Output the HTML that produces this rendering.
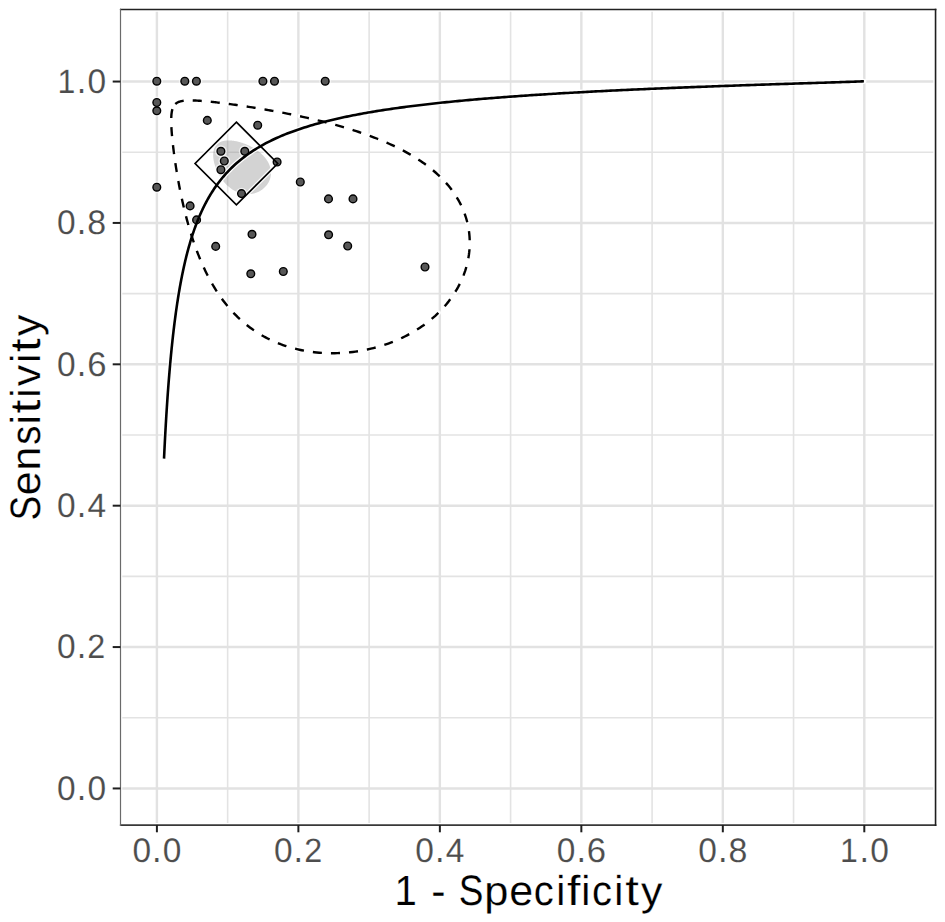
<!DOCTYPE html>
<html><head><meta charset="utf-8"><style>
html,body{margin:0;padding:0;background:#fff;overflow:hidden;}
svg{display:block;}
.gm{stroke:#e3e3e3;stroke-width:1.6;}
.gM{stroke:#e2e2e2;stroke-width:2.4;}
.pt{fill:#575757;stroke:#000;stroke-width:1.4;}
.tk{stroke:#1f1f1f;stroke-width:2;}
.tl{font-family:"Liberation Sans",sans-serif;font-size:100px;text-rendering:geometricPrecision;fill:#4d4d4d;stroke:#fff;stroke-width:0.4px;vector-effect:non-scaling-stroke;}
.at{font-family:"Liberation Sans",sans-serif;font-size:100px;text-rendering:geometricPrecision;fill:#000;stroke:#fff;stroke-width:0.45px;vector-effect:non-scaling-stroke;}
</style></head><body>
<svg width="945" height="922" viewBox="0 0 945 922">
<rect x="0" y="0" width="945" height="922" fill="#fff"/>
<line x1="122.3" x2="933.3" y1="717.76" y2="717.76" class="gm"/>
<line y1="11.8" y2="822.9" x1="227.64" x2="227.64" class="gm"/>
<line x1="122.3" x2="933.3" y1="576.38" y2="576.38" class="gm"/>
<line y1="11.8" y2="822.9" x1="369.12" x2="369.12" class="gm"/>
<line x1="122.3" x2="933.3" y1="435.00" y2="435.00" class="gm"/>
<line y1="11.8" y2="822.9" x1="510.60" x2="510.60" class="gm"/>
<line x1="122.3" x2="933.3" y1="293.62" y2="293.62" class="gm"/>
<line y1="11.8" y2="822.9" x1="652.08" x2="652.08" class="gm"/>
<line x1="122.3" x2="933.3" y1="152.24" y2="152.24" class="gm"/>
<line y1="11.8" y2="822.9" x1="793.56" x2="793.56" class="gm"/>
<line x1="122.3" x2="933.3" y1="788.45" y2="788.45" class="gM"/>
<line y1="11.8" y2="822.9" x1="156.90" x2="156.90" class="gM"/>
<line x1="122.3" x2="933.3" y1="647.07" y2="647.07" class="gM"/>
<line y1="11.8" y2="822.9" x1="298.38" x2="298.38" class="gM"/>
<line x1="122.3" x2="933.3" y1="505.69" y2="505.69" class="gM"/>
<line y1="11.8" y2="822.9" x1="439.86" x2="439.86" class="gM"/>
<line x1="122.3" x2="933.3" y1="364.31" y2="364.31" class="gM"/>
<line y1="11.8" y2="822.9" x1="581.34" x2="581.34" class="gM"/>
<line x1="122.3" x2="933.3" y1="222.93" y2="222.93" class="gM"/>
<line y1="11.8" y2="822.9" x1="722.82" x2="722.82" class="gM"/>
<line x1="122.3" x2="933.3" y1="81.55" y2="81.55" class="gM"/>
<line y1="11.8" y2="822.9" x1="864.30" x2="864.30" class="gM"/>
<path d="M215.72,145.75 L215.60,145.94 L215.47,146.12 L215.35,146.31 L215.23,146.50 L215.12,146.69 L215.01,146.89 L214.90,147.09 L214.80,147.29 L214.70,147.50 L214.60,147.71 L214.50,147.92 L214.41,148.14 L214.32,148.35 L214.24,148.57 L214.16,148.80 L214.08,149.02 L214.00,149.25 L213.93,149.48 L213.86,149.72 L213.80,149.95 L213.74,150.19 L213.68,150.44 L213.62,150.68 L213.57,150.93 L213.52,151.18 L213.47,151.43 L213.43,151.69 L213.39,151.95 L213.36,152.21 L213.32,152.47 L213.29,152.73 L213.27,153.00 L213.25,153.27 L213.23,153.55 L213.21,153.82 L213.20,154.10 L213.19,154.38 L213.18,154.66 L213.18,154.95 L213.18,155.24 L213.18,155.53 L213.19,155.82 L213.20,156.11 L213.21,156.41 L213.23,156.70 L213.25,157.01 L213.27,157.31 L213.30,157.61 L213.32,157.92 L213.36,158.23 L213.39,158.54 L213.43,158.85 L213.48,159.16 L213.52,159.48 L213.57,159.80 L213.62,160.11 L213.68,160.44 L213.74,160.76 L213.80,161.08 L213.86,161.41 L213.93,161.74 L214.01,162.06 L214.08,162.39 L214.16,162.72 L214.24,163.06 L214.33,163.39 L214.41,163.73 L214.51,164.06 L214.60,164.40 L214.70,164.74 L214.80,165.08 L214.90,165.42 L215.01,165.76 L215.12,166.10 L215.24,166.44 L215.36,166.79 L215.48,167.13 L215.60,167.48 L215.73,167.82 L215.86,168.17 L215.99,168.52 L216.13,168.86 L216.27,169.21 L216.41,169.56 L216.56,169.90 L216.71,170.25 L216.86,170.60 L217.02,170.95 L217.18,171.30 L217.34,171.64 L217.51,171.99 L217.68,172.34 L217.85,172.69 L218.03,173.03 L218.21,173.38 L218.39,173.72 L218.57,174.07 L218.76,174.41 L218.96,174.76 L219.15,175.10 L219.35,175.44 L219.55,175.78 L219.75,176.12 L219.96,176.46 L220.17,176.80 L220.39,177.14 L220.60,177.47 L220.82,177.81 L221.05,178.14 L221.27,178.47 L221.50,178.80 L221.73,179.13 L221.97,179.45 L222.21,179.78 L222.45,180.10 L222.69,180.42 L222.94,180.74 L223.19,181.05 L223.44,181.37 L223.70,181.68 L223.96,181.99 L224.22,182.30 L224.48,182.60 L224.75,182.90 L225.02,183.20 L225.30,183.50 L225.57,183.79 L225.85,184.09 L226.13,184.38 L226.42,184.66 L226.70,184.94 L226.99,185.22 L227.29,185.50 L227.58,185.77 L227.88,186.04 L228.18,186.31 L228.48,186.57 L228.79,186.83 L229.09,187.09 L229.41,187.34 L229.72,187.59 L230.03,187.84 L230.35,188.08 L230.67,188.31 L230.99,188.55 L231.32,188.78 L231.64,189.00 L231.97,189.22 L232.30,189.44 L232.64,189.65 L232.97,189.86 L233.31,190.07 L233.65,190.27 L233.99,190.46 L234.33,190.66 L234.68,190.84 L235.02,191.02 L235.37,191.20 L235.72,191.37 L236.07,191.54 L236.43,191.71 L236.78,191.86 L237.14,192.02 L237.50,192.17 L237.85,192.31 L238.22,192.45 L238.58,192.58 L238.94,192.71 L239.31,192.84 L239.67,192.95 L240.04,193.07 L240.41,193.18 L240.77,193.28 L241.14,193.38 L241.51,193.47 L241.89,193.56 L242.26,193.64 L242.63,193.71 L243.00,193.79 L243.38,193.85 L243.75,193.91 L244.13,193.97 L244.50,194.02 L244.88,194.06 L245.25,194.10 L245.63,194.13 L246.00,194.16 L246.38,194.18 L246.75,194.20 L247.13,194.21 L247.50,194.22 L247.88,194.22 L248.25,194.21 L248.63,194.20 L249.00,194.19 L249.37,194.16 L249.75,194.14 L250.12,194.10 L250.49,194.07 L250.86,194.02 L251.23,193.97 L251.59,193.92 L251.96,193.86 L252.32,193.79 L252.69,193.72 L253.05,193.65 L253.41,193.57 L253.77,193.48 L254.13,193.39 L254.49,193.29 L254.84,193.19 L255.19,193.08 L255.54,192.97 L255.89,192.85 L256.24,192.73 L256.58,192.60 L256.92,192.47 L257.26,192.33 L257.60,192.18 L257.93,192.04 L258.27,191.88 L258.60,191.73 L258.92,191.56 L259.25,191.40 L259.57,191.22 L259.89,191.05 L260.20,190.86 L260.51,190.68 L260.82,190.49 L261.13,190.29 L261.43,190.09 L261.73,189.89 L262.02,189.68 L262.31,189.47 L262.60,189.25 L262.88,189.03 L263.16,188.81 L263.44,188.58 L263.71,188.34 L263.98,188.11 L264.24,187.87 L264.50,187.62 L264.76,187.37 L265.01,187.12 L265.25,186.86 L265.50,186.61 L265.73,186.34 L265.97,186.08 L266.20,185.81 L266.42,185.53 L266.64,185.26 L266.85,184.98 L267.06,184.70 L267.27,184.41 L267.47,184.12 L267.66,183.83 L267.85,183.54 L268.03,183.24 L268.21,182.94 L268.38,182.64 L268.55,182.33 L268.72,182.03 L268.87,181.72 L269.02,181.41 L269.17,181.09 L269.31,180.78 L269.45,180.46 L269.58,180.14 L269.70,179.82 L269.82,179.49 L269.93,179.17 L270.04,178.84 L270.14,178.51 L270.24,178.18 L270.33,177.85 L270.41,177.51 L270.49,177.18 L270.56,176.84 L270.62,176.50 L270.68,176.16 L270.74,175.83 L270.79,175.48 L270.83,175.14 L270.86,174.80 L270.89,174.46 L270.92,174.11 L270.94,173.77 L270.95,173.42 L270.95,173.08 L270.95,172.73 L270.95,172.38 L270.94,172.03 L270.92,171.69 L270.89,171.34 L270.86,170.99 L270.83,170.64 L270.79,170.30 L270.74,169.95 L270.68,169.60 L270.62,169.25 L270.56,168.91 L270.48,168.56 L270.41,168.21 L270.32,167.87 L270.23,167.52 L270.14,167.18 L270.04,166.83 L269.93,166.49 L269.82,166.14 L269.70,165.80 L269.57,165.46 L269.44,165.12 L269.31,164.78 L269.17,164.44 L269.02,164.10 L268.87,163.77 L268.71,163.43 L268.55,163.10 L268.38,162.77 L268.21,162.43 L268.03,162.10 L267.84,161.78 L267.65,161.45 L267.46,161.12 L267.26,160.80 L267.06,160.48 L266.85,160.15 L266.63,159.84 L266.41,159.52 L266.19,159.20 L265.96,158.89 L265.73,158.58 L265.49,158.27 L265.25,157.96 L265.00,157.65 L264.75,157.35 L264.49,157.04 L264.23,156.74 L263.97,156.44 L263.70,156.15 L263.43,155.85 L263.15,155.56 L262.87,155.27 L262.59,154.98 L262.30,154.70 L262.01,154.42 L261.72,154.14 L261.42,153.86 L261.12,153.58 L260.81,153.31 L260.50,153.04 L260.19,152.77 L259.88,152.50 L259.56,152.24 L259.24,151.98 L258.91,151.72 L258.59,151.46 L258.26,151.21 L257.93,150.96 L257.59,150.71 L257.25,150.47 L256.91,150.22 L256.57,149.98 L256.23,149.75 L255.88,149.51 L255.53,149.28 L255.18,149.05 L254.83,148.82 L254.48,148.60 L254.12,148.38 L253.76,148.16 L253.40,147.95 L253.04,147.74 L252.68,147.53 L252.31,147.32 L251.95,147.12 L251.58,146.92 L251.21,146.72 L250.85,146.52 L250.48,146.33 L250.11,146.14 L249.73,145.96 L249.36,145.78 L248.99,145.60 L248.62,145.42 L248.24,145.24 L247.87,145.07 L247.49,144.91 L247.12,144.74 L246.74,144.58 L246.37,144.42 L245.99,144.26 L245.62,144.11 L245.24,143.96 L244.87,143.82 L244.49,143.67 L244.12,143.53 L243.74,143.39 L243.37,143.26 L242.99,143.13 L242.62,143.00 L242.25,142.87 L241.87,142.75 L241.50,142.63 L241.13,142.52 L240.76,142.40 L240.39,142.30 L240.03,142.19 L239.66,142.09 L239.29,141.98 L238.93,141.89 L238.57,141.79 L238.21,141.70 L237.84,141.61 L237.49,141.53 L237.13,141.45 L236.77,141.37 L236.42,141.29 L236.06,141.22 L235.71,141.15 L235.36,141.09 L235.01,141.02 L234.67,140.96 L234.32,140.91 L233.98,140.85 L233.64,140.80 L233.30,140.76 L232.96,140.71 L232.63,140.67 L232.29,140.63 L231.96,140.60 L231.63,140.57 L231.31,140.54 L230.98,140.51 L230.66,140.49 L230.34,140.47 L230.02,140.46 L229.71,140.44 L229.40,140.43 L229.09,140.43 L228.78,140.42 L228.47,140.42 L228.17,140.43 L227.87,140.43 L227.57,140.44 L227.28,140.45 L226.99,140.47 L226.70,140.49 L226.41,140.51 L226.12,140.53 L225.84,140.56 L225.56,140.59 L225.29,140.63 L225.01,140.67 L224.74,140.71 L224.48,140.75 L224.21,140.80 L223.95,140.85 L223.69,140.90 L223.44,140.96 L223.18,141.02 L222.93,141.08 L222.69,141.14 L222.44,141.21 L222.20,141.28 L221.96,141.36 L221.73,141.44 L221.49,141.52 L221.27,141.60 L221.04,141.69 L220.82,141.78 L220.60,141.88 L220.38,141.97 L220.17,142.07 L219.96,142.18 L219.75,142.28 L219.54,142.39 L219.34,142.50 L219.14,142.62 L218.95,142.74 L218.76,142.86 L218.57,142.98 L218.38,143.11 L218.20,143.24 L218.02,143.38 L217.85,143.51 L217.67,143.65 L217.51,143.80 L217.34,143.94 L217.18,144.09 L217.02,144.25 L216.86,144.40 L216.71,144.56 L216.56,144.72 L216.41,144.89 L216.27,145.05 L216.13,145.22 L215.99,145.40 L215.86,145.57 Z" fill="#7f7f7f" fill-opacity="0.34" stroke="none"/>
<g stroke="#fff" fill="none" stroke-opacity="0.9" fill-opacity="0.9">
<path d="M173.21,107.06 L173.08,107.35 L172.95,107.65 L172.83,107.96 L172.71,108.28 L172.59,108.61 L172.48,108.95 L172.38,109.29 L172.28,109.65 L172.19,110.01 L172.10,110.39 L172.01,110.77 L171.93,111.16 L171.85,111.57 L171.78,111.98 L171.72,112.40 L171.65,112.84 L171.59,113.28 L171.54,113.74 L171.49,114.20 L171.44,114.68 L171.40,115.17 L171.37,115.67 L171.33,116.19 L171.30,116.71 L171.28,117.25 L171.26,117.80 L171.24,118.37 L171.23,118.94 L171.22,119.54 L171.21,120.14 L171.21,120.76 L171.22,121.39 L171.22,122.04 L171.24,122.70 L171.25,123.37 L171.27,124.06 L171.29,124.77 L171.32,125.49 L171.35,126.22 L171.39,126.98 L171.43,127.74 L171.47,128.53 L171.52,129.33 L171.58,130.15 L171.63,130.98 L171.69,131.84 L171.76,132.71 L171.83,133.60 L171.90,134.50 L171.98,135.43 L172.07,136.37 L172.16,137.33 L172.25,138.31 L172.35,139.31 L172.45,140.33 L172.56,141.36 L172.67,142.42 L172.79,143.50 L172.91,144.60 L173.04,145.71 L173.17,146.85 L173.31,148.01 L173.45,149.19 L173.60,150.39 L173.75,151.61 L173.92,152.85 L174.08,154.11 L174.25,155.39 L174.43,156.70 L174.62,158.02 L174.81,159.37 L175.01,160.74 L175.21,162.12 L175.42,163.54 L175.64,164.97 L175.86,166.42 L176.09,167.89 L176.33,169.39 L176.58,170.91 L176.83,172.45 L177.10,174.00 L177.37,175.58 L177.64,177.18 L177.93,178.81 L178.23,180.45 L178.53,182.11 L178.84,183.79 L179.16,185.49 L179.49,187.21 L179.83,188.95 L180.18,190.71 L180.54,192.49 L180.91,194.28 L181.29,196.09 L181.68,197.92 L182.09,199.77 L182.50,201.64 L182.92,203.52 L183.36,205.41 L183.81,207.32 L184.27,209.25 L184.74,211.19 L185.23,213.14 L185.72,215.11 L186.24,217.09 L186.76,219.08 L187.30,221.08 L187.85,223.10 L188.42,225.12 L189.00,227.15 L189.60,229.19 L190.21,231.24 L190.84,233.30 L191.49,235.36 L192.15,237.43 L192.83,239.50 L193.52,241.58 L194.23,243.66 L194.96,245.75 L195.71,247.83 L196.48,249.92 L197.27,252.01 L198.07,254.09 L198.90,256.18 L199.74,258.26 L200.61,260.34 L201.49,262.41 L202.40,264.48 L203.33,266.55 L204.28,268.61 L205.25,270.66 L206.24,272.70 L207.26,274.73 L208.30,276.76 L209.36,278.77 L210.45,280.77 L211.56,282.76 L212.70,284.73 L213.86,286.69 L215.05,288.64 L216.26,290.57 L217.50,292.48 L218.77,294.37 L220.06,296.25 L221.37,298.11 L222.72,299.94 L224.09,301.76 L225.49,303.56 L226.92,305.33 L228.37,307.08 L229.85,308.80 L231.37,310.51 L232.91,312.18 L234.47,313.83 L236.07,315.46 L237.70,317.06 L239.35,318.63 L241.04,320.17 L242.75,321.68 L244.49,323.16 L246.26,324.61 L248.06,326.04 L249.89,327.43 L251.75,328.79 L253.63,330.11 L255.55,331.40 L257.49,332.66 L259.47,333.89 L261.47,335.08 L263.49,336.24 L265.55,337.36 L267.63,338.45 L269.74,339.50 L271.88,340.51 L274.04,341.49 L276.22,342.43 L278.44,343.33 L280.67,344.20 L282.93,345.02 L285.22,345.81 L287.53,346.56 L289.85,347.27 L292.21,347.95 L294.58,348.58 L296.97,349.17 L299.38,349.72 L301.81,350.24 L304.26,350.71 L306.72,351.14 L309.20,351.54 L311.70,351.89 L314.21,352.20 L316.73,352.47 L319.27,352.70 L321.81,352.89 L324.37,353.04 L326.94,353.15 L329.51,353.21 L332.09,353.24 L334.68,353.22 L337.27,353.16 L339.87,353.06 L342.46,352.92 L345.06,352.74 L347.66,352.52 L350.26,352.26 L352.86,351.96 L355.45,351.61 L358.04,351.23 L360.62,350.80 L363.20,350.34 L365.76,349.83 L368.32,349.29 L370.87,348.70 L373.41,348.08 L375.93,347.41 L378.44,346.71 L380.93,345.97 L383.41,345.19 L385.87,344.37 L388.31,343.51 L390.73,342.62 L393.14,341.68 L395.52,340.71 L397.87,339.71 L400.20,338.66 L402.51,337.59 L404.79,336.47 L407.05,335.32 L409.27,334.14 L411.47,332.92 L413.64,331.66 L415.78,330.38 L417.88,329.06 L419.95,327.71 L421.99,326.32 L424.00,324.91 L425.97,323.46 L427.90,321.98 L429.80,320.48 L431.66,318.94 L433.48,317.38 L435.27,315.79 L437.01,314.17 L438.71,312.52 L440.38,310.85 L442.00,309.15 L443.58,307.43 L445.12,305.69 L446.61,303.92 L448.07,302.13 L449.47,300.32 L450.84,298.48 L452.16,296.63 L453.43,294.76 L454.66,292.87 L455.84,290.96 L456.98,289.03 L458.07,287.09 L459.11,285.13 L460.10,283.16 L461.05,281.17 L461.95,279.18 L462.80,277.17 L463.61,275.15 L464.36,273.11 L465.07,271.07 L465.72,269.02 L466.33,266.97 L466.89,264.90 L467.40,262.84 L467.86,260.76 L468.27,258.68 L468.62,256.60 L468.93,254.52 L469.19,252.43 L469.40,250.34 L469.56,248.26 L469.67,246.17 L469.73,244.09 L469.74,242.00 L469.70,239.93 L469.60,237.85 L469.46,235.78 L469.27,233.72 L469.03,231.66 L468.73,229.61 L468.39,227.57 L468.00,225.53 L467.55,223.51 L467.06,221.49 L466.52,219.49 L465.93,217.49 L465.29,215.51 L464.60,213.54 L463.86,211.59 L463.07,209.64 L462.24,207.71 L461.36,205.80 L460.42,203.90 L459.44,202.02 L458.42,200.15 L457.34,198.30 L456.22,196.47 L455.06,194.65 L453.84,192.85 L452.58,191.07 L451.28,189.31 L449.93,187.56 L448.54,185.84 L447.10,184.13 L445.62,182.45 L444.09,180.78 L442.53,179.14 L440.92,177.51 L439.27,175.91 L437.58,174.32 L435.85,172.76 L434.08,171.22 L432.27,169.70 L430.42,168.20 L428.53,166.72 L426.61,165.26 L424.65,163.83 L422.66,162.41 L420.63,161.02 L418.57,159.64 L416.48,158.29 L414.35,156.96 L412.19,155.66 L410.00,154.37 L407.79,153.10 L405.54,151.86 L403.27,150.63 L400.97,149.43 L398.65,148.25 L396.30,147.09 L393.93,145.94 L391.53,144.82 L389.12,143.72 L386.68,142.64 L384.23,141.58 L381.75,140.54 L379.27,139.51 L376.76,138.51 L374.24,137.53 L371.71,136.56 L369.17,135.62 L366.61,134.69 L364.05,133.78 L361.47,132.89 L358.89,132.01 L356.31,131.16 L353.71,130.32 L351.12,129.50 L348.52,128.69 L345.92,127.90 L343.32,127.13 L340.72,126.38 L338.13,125.64 L335.54,124.91 L332.95,124.20 L330.36,123.51 L327.79,122.83 L325.22,122.17 L322.66,121.52 L320.11,120.88 L317.57,120.26 L315.04,119.66 L312.53,119.06 L310.03,118.48 L307.54,117.92 L305.07,117.36 L302.62,116.82 L300.18,116.29 L297.77,115.78 L295.37,115.27 L292.99,114.78 L290.63,114.30 L288.29,113.83 L285.98,113.37 L283.69,112.93 L281.42,112.49 L279.17,112.06 L276.95,111.65 L274.76,111.24 L272.59,110.85 L270.44,110.46 L268.33,110.09 L266.23,109.72 L264.17,109.37 L262.13,109.02 L260.12,108.68 L258.14,108.35 L256.19,108.03 L254.27,107.72 L252.37,107.41 L250.50,107.12 L248.66,106.83 L246.85,106.55 L245.07,106.28 L243.32,106.01 L241.60,105.76 L239.91,105.51 L238.24,105.26 L236.61,105.03 L235.00,104.80 L233.42,104.58 L231.87,104.37 L230.35,104.16 L228.86,103.96 L227.40,103.76 L225.96,103.57 L224.55,103.39 L223.17,103.22 L221.82,103.05 L220.49,102.88 L219.19,102.72 L217.92,102.57 L216.67,102.43 L215.45,102.28 L214.25,102.15 L213.08,102.02 L211.94,101.90 L210.82,101.78 L209.72,101.66 L208.65,101.55 L207.60,101.45 L206.58,101.35 L205.57,101.26 L204.60,101.17 L203.64,101.09 L202.70,101.01 L201.79,100.94 L200.90,100.87 L200.02,100.81 L199.17,100.75 L198.34,100.70 L197.53,100.65 L196.74,100.60 L195.96,100.56 L195.21,100.53 L194.47,100.50 L193.76,100.47 L193.05,100.45 L192.37,100.43 L191.70,100.42 L191.05,100.41 L190.42,100.41 L189.80,100.41 L189.20,100.42 L188.61,100.43 L188.04,100.45 L187.48,100.47 L186.94,100.49 L186.41,100.52 L185.89,100.55 L185.39,100.59 L184.90,100.64 L184.42,100.68 L183.96,100.74 L183.51,100.80 L183.07,100.86 L182.64,100.92 L182.22,101.00 L181.82,101.07 L181.42,101.16 L181.04,101.24 L180.66,101.33 L180.30,101.43 L179.95,101.53 L179.60,101.64 L179.27,101.75 L178.95,101.87 L178.63,101.99 L178.32,102.12 L178.03,102.26 L177.74,102.40 L177.46,102.54 L177.18,102.69 L176.92,102.85 L176.66,103.01 L176.41,103.18 L176.17,103.36 L175.94,103.54 L175.71,103.72 L175.49,103.92 L175.28,104.12 L175.07,104.32 L174.87,104.54 L174.68,104.76 L174.49,104.98 L174.31,105.22 L174.14,105.46 L173.97,105.70 L173.81,105.96 L173.65,106.22 L173.50,106.49 L173.35,106.77 Z" stroke-width="5.0" stroke-dasharray="9.05 9.05" stroke-dashoffset="-2.185" stroke-linecap="round"/>
<path d="M164.03,458.60 L164.09,457.19 L164.16,455.78 L164.23,454.38 L164.30,452.97 L164.36,451.56 L164.43,450.14 L164.50,448.73 L164.57,447.32 L164.64,445.91 L164.72,444.49 L164.79,443.08 L164.86,441.67 L164.93,440.25 L165.01,438.84 L165.08,437.42 L165.16,436.01 L165.24,434.59 L165.31,433.18 L165.39,431.76 L165.47,430.34 L165.55,428.93 L165.63,427.51 L165.71,426.10 L165.79,424.68 L165.87,423.26 L165.96,421.85 L166.04,420.43 L166.13,419.02 L166.21,417.60 L166.30,416.19 L166.38,414.78 L166.47,413.36 L166.56,411.95 L166.65,410.54 L166.74,409.13 L166.83,407.72 L166.92,406.31 L167.02,404.90 L167.11,403.49 L167.21,402.08 L167.30,400.67 L167.40,399.27 L167.49,397.86 L167.59,396.46 L167.69,395.05 L167.79,393.65 L167.89,392.25 L167.99,390.85 L168.10,389.45 L168.20,388.05 L168.30,386.66 L168.41,385.26 L168.52,383.87 L168.62,382.48 L168.73,381.09 L168.84,379.70 L168.95,378.31 L169.07,376.92 L169.18,375.54 L169.29,374.15 L169.41,372.77 L169.52,371.39 L169.64,370.02 L169.76,368.64 L169.88,367.27 L170.00,365.89 L170.12,364.52 L170.24,363.15 L170.36,361.79 L170.49,360.42 L170.61,359.06 L170.74,357.70 L170.87,356.34 L171.00,354.99 L171.13,353.63 L171.26,352.28 L171.39,350.93 L171.53,349.59 L171.66,348.24 L171.80,346.90 L171.94,345.56 L172.08,344.22 L172.22,342.89 L172.36,341.55 L172.50,340.23 L172.65,338.90 L172.79,337.57 L172.94,336.25 L173.09,334.93 L173.24,333.62 L173.39,332.30 L173.54,330.99 L173.70,329.68 L173.85,328.38 L174.01,327.08 L174.17,325.78 L174.33,324.48 L174.49,323.19 L174.65,321.90 L174.82,320.61 L174.98,319.33 L175.15,318.05 L175.32,316.77 L175.49,315.49 L175.66,314.22 L175.83,312.95 L176.01,311.69 L176.19,310.42 L176.37,309.17 L176.55,307.91 L176.73,306.66 L176.91,305.41 L177.10,304.16 L177.28,302.92 L177.47,301.68 L177.66,300.45 L177.85,299.22 L178.05,297.99 L178.24,296.76 L178.44,295.54 L178.64,294.33 L178.84,293.11 L179.05,291.90 L179.25,290.69 L179.46,289.49 L179.67,288.29 L179.88,287.10 L180.09,285.90 L180.31,284.72 L180.52,283.53 L180.74,282.35 L180.96,281.17 L181.18,280.00 L181.41,278.83 L181.64,277.67 L181.87,276.51 L182.10,275.35 L182.33,274.19 L182.57,273.04 L182.80,271.90 L183.04,270.76 L183.28,269.62 L183.53,268.48 L183.78,267.35 L184.02,266.23 L184.28,265.10 L184.53,263.99 L184.79,262.87 L185.04,261.76 L185.30,260.66 L185.57,259.55 L185.83,258.46 L186.10,257.36 L186.37,256.27 L186.64,255.19 L186.92,254.10 L187.20,253.03 L187.48,251.95 L187.76,250.88 L188.05,249.82 L188.33,248.76 L188.63,247.70 L188.92,246.65 L189.22,245.60 L189.52,244.56 L189.82,243.52 L190.12,242.48 L190.43,241.45 L190.74,240.42 L191.05,239.40 L191.37,238.38 L191.69,237.36 L192.01,236.35 L192.34,235.35 L192.66,234.34 L193.00,233.35 L193.33,232.35 L193.67,231.36 L194.01,230.38 L194.35,229.40 L194.70,228.42 L195.05,227.45 L195.40,226.48 L195.76,225.52 L196.12,224.56 L196.48,223.60 L196.85,222.65 L197.22,221.70 L197.59,220.76 L197.97,219.82 L198.35,218.89 L198.73,217.96 L199.12,217.03 L199.51,216.11 L199.90,215.19 L200.30,214.28 L200.70,213.37 L201.11,212.47 L201.52,211.57 L201.93,210.67 L202.35,209.78 L202.77,208.89 L203.19,208.01 L203.62,207.13 L204.06,206.25 L204.49,205.38 L204.93,204.52 L205.38,203.66 L205.83,202.80 L206.28,201.94 L206.74,201.09 L207.20,200.25 L207.66,199.41 L208.13,198.57 L208.61,197.74 L209.09,196.91 L209.57,196.08 L210.06,195.26 L210.55,194.45 L211.05,193.63 L211.55,192.83 L212.06,192.02 L212.57,191.22 L213.08,190.43 L213.60,189.63 L214.13,188.85 L214.66,188.06 L215.19,187.28 L215.73,186.51 L216.28,185.74 L216.83,184.97 L217.38,184.21 L217.94,183.45 L218.51,182.69 L219.08,181.94 L219.65,181.19 L220.23,180.45 L220.82,179.71 L221.41,178.97 L222.01,178.24 L222.61,177.51 L223.22,176.79 L223.83,176.07 L224.45,175.35 L225.08,174.64 L225.71,173.93 L226.35,173.23 L226.99,172.53 L227.64,171.83 L229.77,169.62 L231.90,167.51 L234.02,165.49 L236.15,163.56 L238.28,161.71 L240.41,159.94 L242.54,158.24 L244.66,156.60 L246.79,155.03 L248.92,153.52 L251.05,152.07 L253.18,150.67 L255.30,149.32 L257.43,148.01 L259.56,146.76 L261.69,145.54 L263.82,144.36 L265.94,143.22 L268.07,142.12 L270.20,141.05 L272.33,140.02 L274.46,139.01 L276.58,138.04 L278.71,137.09 L280.84,136.17 L282.97,135.28 L285.09,134.41 L287.22,133.57 L289.35,132.75 L291.48,131.95 L293.61,131.17 L295.73,130.41 L297.86,129.67 L299.99,128.95 L302.12,128.24 L304.25,127.56 L306.37,126.89 L308.50,126.23 L310.63,125.60 L312.76,124.97 L314.89,124.36 L317.01,123.77 L319.14,123.18 L321.27,122.61 L323.40,122.05 L325.53,121.51 L327.65,120.97 L329.78,120.45 L331.91,119.94 L334.04,119.43 L336.17,118.94 L338.29,118.46 L340.42,117.99 L342.55,117.52 L344.68,117.07 L346.81,116.62 L348.93,116.18 L351.06,115.75 L353.19,115.33 L355.32,114.92 L357.45,114.51 L359.57,114.11 L361.70,113.72 L363.83,113.33 L365.96,112.95 L368.09,112.58 L370.21,112.22 L372.34,111.86 L374.47,111.50 L376.60,111.15 L378.73,110.81 L380.85,110.47 L382.98,110.14 L385.11,109.81 L387.24,109.49 L389.36,109.18 L391.49,108.86 L393.62,108.56 L395.75,108.26 L397.88,107.96 L400.00,107.66 L402.13,107.37 L404.26,107.09 L406.39,106.81 L408.52,106.53 L410.64,106.26 L412.77,105.99 L414.90,105.73 L417.03,105.46 L419.16,105.21 L421.28,104.95 L423.41,104.70 L425.54,104.45 L427.67,104.21 L429.80,103.97 L431.92,103.73 L434.05,103.49 L436.18,103.26 L438.31,103.03 L440.44,102.81 L442.56,102.58 L444.69,102.36 L446.82,102.14 L448.95,101.93 L451.08,101.72 L453.20,101.51 L455.33,101.30 L457.46,101.09 L459.59,100.89 L461.72,100.69 L463.84,100.49 L465.97,100.30 L468.10,100.10 L470.23,99.91 L472.36,99.72 L474.48,99.53 L476.61,99.35 L478.74,99.17 L480.87,98.99 L483.00,98.81 L485.12,98.63 L487.25,98.45 L489.38,98.28 L491.51,98.11 L493.63,97.94 L495.76,97.77 L497.89,97.61 L500.02,97.44 L502.15,97.28 L504.27,97.12 L506.40,96.96 L508.53,96.80 L510.66,96.64 L512.79,96.49 L514.91,96.34 L517.04,96.18 L519.17,96.03 L521.30,95.88 L523.43,95.74 L525.55,95.59 L527.68,95.45 L529.81,95.30 L531.94,95.16 L534.07,95.02 L536.19,94.88 L538.32,94.74 L540.45,94.60 L542.58,94.47 L544.71,94.33 L546.83,94.20 L548.96,94.07 L551.09,93.94 L553.22,93.81 L555.35,93.68 L557.47,93.55 L559.60,93.42 L561.73,93.30 L563.86,93.17 L565.99,93.05 L568.11,92.93 L570.24,92.81 L572.37,92.69 L574.50,92.57 L576.63,92.45 L578.75,92.33 L580.88,92.21 L583.01,92.10 L585.14,91.98 L587.27,91.87 L589.39,91.76 L591.52,91.65 L593.65,91.53 L595.78,91.42 L597.91,91.31 L600.03,91.21 L602.16,91.10 L604.29,90.99 L606.42,90.88 L608.54,90.78 L610.67,90.67 L612.80,90.57 L614.93,90.47 L617.06,90.36 L619.18,90.26 L621.31,90.16 L623.44,90.06 L625.57,89.96 L627.70,89.86 L629.82,89.76 L631.95,89.67 L634.08,89.57 L636.21,89.47 L638.34,89.38 L640.46,89.28 L642.59,89.19 L644.72,89.09 L646.85,89.00 L648.98,88.91 L651.10,88.81 L653.23,88.72 L655.36,88.63 L657.49,88.54 L659.62,88.45 L661.74,88.36 L663.87,88.27 L666.00,88.19 L668.13,88.10 L670.26,88.01 L672.38,87.92 L674.51,87.84 L676.64,87.75 L678.77,87.67 L680.90,87.58 L683.02,87.50 L685.15,87.41 L687.28,87.33 L689.41,87.25 L691.54,87.17 L693.66,87.08 L695.79,87.00 L697.92,86.92 L700.05,86.84 L702.18,86.76 L704.30,86.68 L706.43,86.60 L708.56,86.52 L710.69,86.44 L712.81,86.37 L714.94,86.29 L717.07,86.21 L719.20,86.13 L721.33,86.06 L723.45,85.98 L725.58,85.90 L727.71,85.83 L729.84,85.75 L731.97,85.68 L734.09,85.60 L736.22,85.53 L738.35,85.46 L740.48,85.38 L742.61,85.31 L744.73,85.24 L746.86,85.16 L748.99,85.09 L751.12,85.02 L753.25,84.95 L755.37,84.87 L757.50,84.80 L759.63,84.73 L761.76,84.66 L763.89,84.59 L766.01,84.52 L768.14,84.45 L770.27,84.38 L772.40,84.31 L774.53,84.24 L776.65,84.17 L778.78,84.10 L780.91,84.03 L783.04,83.96 L785.17,83.90 L787.29,83.83 L789.42,83.76 L791.55,83.69 L793.68,83.62 L795.81,83.56 L797.93,83.49 L800.06,83.42 L802.19,83.35 L804.32,83.28 L806.45,83.22 L808.57,83.15 L810.70,83.08 L812.83,83.01 L814.96,82.95 L817.08,82.88 L819.21,82.81 L821.34,82.74 L823.47,82.68 L825.60,82.61 L827.72,82.54 L829.85,82.47 L831.98,82.41 L834.11,82.34 L836.24,82.27 L838.36,82.20 L840.49,82.13 L842.62,82.06 L844.75,81.99 L846.88,81.92 L849.00,81.85 L851.13,81.77 L853.26,81.70 L855.39,81.62 L857.52,81.54 L859.64,81.46 L861.77,81.37 L863.90,81.28" stroke-width="5.2" stroke-linecap="round"/>
<path d="M236.4,122.2 L277.7,163.5 L236.4,204.8 L195.10000000000002,163.5 Z" stroke-width="4.3"/>
<circle cx="156.8" cy="81.2" r="5.949999999999999" stroke="none" fill="#fff" fill-opacity="0.6"/>
<circle cx="184.8" cy="81.2" r="5.949999999999999" stroke="none" fill="#fff" fill-opacity="0.6"/>
<circle cx="196.4" cy="81.2" r="5.949999999999999" stroke="none" fill="#fff" fill-opacity="0.6"/>
<circle cx="262.9" cy="81.2" r="5.949999999999999" stroke="none" fill="#fff" fill-opacity="0.6"/>
<circle cx="274.5" cy="81.2" r="5.949999999999999" stroke="none" fill="#fff" fill-opacity="0.6"/>
<circle cx="325.2" cy="81.2" r="5.949999999999999" stroke="none" fill="#fff" fill-opacity="0.6"/>
<circle cx="156.8" cy="102.5" r="5.949999999999999" stroke="none" fill="#fff" fill-opacity="0.6"/>
<circle cx="156.8" cy="110.8" r="5.949999999999999" stroke="none" fill="#fff" fill-opacity="0.6"/>
<circle cx="207.3" cy="120.4" r="5.949999999999999" stroke="none" fill="#fff" fill-opacity="0.6"/>
<circle cx="257.7" cy="125.2" r="5.949999999999999" stroke="none" fill="#fff" fill-opacity="0.6"/>
<circle cx="220.9" cy="151.3" r="5.949999999999999" stroke="none" fill="#fff" fill-opacity="0.6"/>
<circle cx="244.8" cy="151.3" r="5.949999999999999" stroke="none" fill="#fff" fill-opacity="0.6"/>
<circle cx="224.3" cy="161" r="5.949999999999999" stroke="none" fill="#fff" fill-opacity="0.6"/>
<circle cx="220.9" cy="169.7" r="5.949999999999999" stroke="none" fill="#fff" fill-opacity="0.6"/>
<circle cx="277.1" cy="162" r="5.949999999999999" stroke="none" fill="#fff" fill-opacity="0.6"/>
<circle cx="241.5" cy="193.6" r="5.949999999999999" stroke="none" fill="#fff" fill-opacity="0.6"/>
<circle cx="156.8" cy="187.2" r="5.949999999999999" stroke="none" fill="#fff" fill-opacity="0.6"/>
<circle cx="190.1" cy="205.9" r="5.949999999999999" stroke="none" fill="#fff" fill-opacity="0.6"/>
<circle cx="196.6" cy="219.9" r="5.949999999999999" stroke="none" fill="#fff" fill-opacity="0.6"/>
<circle cx="215.7" cy="246.4" r="5.949999999999999" stroke="none" fill="#fff" fill-opacity="0.6"/>
<circle cx="252" cy="234.3" r="5.949999999999999" stroke="none" fill="#fff" fill-opacity="0.6"/>
<circle cx="250.8" cy="273.8" r="5.949999999999999" stroke="none" fill="#fff" fill-opacity="0.6"/>
<circle cx="283.3" cy="271.5" r="5.949999999999999" stroke="none" fill="#fff" fill-opacity="0.6"/>
<circle cx="300.3" cy="182" r="5.949999999999999" stroke="none" fill="#fff" fill-opacity="0.6"/>
<circle cx="328.5" cy="198.9" r="5.949999999999999" stroke="none" fill="#fff" fill-opacity="0.6"/>
<circle cx="353.0" cy="198.9" r="5.949999999999999" stroke="none" fill="#fff" fill-opacity="0.6"/>
<circle cx="328.6" cy="234.8" r="5.949999999999999" stroke="none" fill="#fff" fill-opacity="0.6"/>
<circle cx="347.7" cy="246" r="5.949999999999999" stroke="none" fill="#fff" fill-opacity="0.6"/>
<circle cx="425" cy="267" r="5.949999999999999" stroke="none" fill="#fff" fill-opacity="0.6"/>
</g>
<circle cx="156.8" cy="81.2" r="3.85" class="pt"/>
<circle cx="184.8" cy="81.2" r="3.85" class="pt"/>
<circle cx="196.4" cy="81.2" r="3.85" class="pt"/>
<circle cx="262.9" cy="81.2" r="3.85" class="pt"/>
<circle cx="274.5" cy="81.2" r="3.85" class="pt"/>
<circle cx="325.2" cy="81.2" r="3.85" class="pt"/>
<circle cx="156.8" cy="102.5" r="3.85" class="pt"/>
<circle cx="156.8" cy="110.8" r="3.85" class="pt"/>
<circle cx="207.3" cy="120.4" r="3.85" class="pt"/>
<circle cx="257.7" cy="125.2" r="3.85" class="pt"/>
<circle cx="220.9" cy="151.3" r="3.85" class="pt"/>
<circle cx="244.8" cy="151.3" r="3.85" class="pt"/>
<circle cx="224.3" cy="161" r="3.85" class="pt"/>
<circle cx="220.9" cy="169.7" r="3.85" class="pt"/>
<circle cx="277.1" cy="162" r="3.85" class="pt"/>
<circle cx="241.5" cy="193.6" r="3.85" class="pt"/>
<circle cx="156.8" cy="187.2" r="3.85" class="pt"/>
<circle cx="190.1" cy="205.9" r="3.85" class="pt"/>
<circle cx="196.6" cy="219.9" r="3.85" class="pt"/>
<circle cx="215.7" cy="246.4" r="3.85" class="pt"/>
<circle cx="252" cy="234.3" r="3.85" class="pt"/>
<circle cx="250.8" cy="273.8" r="3.85" class="pt"/>
<circle cx="283.3" cy="271.5" r="3.85" class="pt"/>
<circle cx="300.3" cy="182" r="3.85" class="pt"/>
<circle cx="328.5" cy="198.9" r="3.85" class="pt"/>
<circle cx="353.0" cy="198.9" r="3.85" class="pt"/>
<circle cx="328.6" cy="234.8" r="3.85" class="pt"/>
<circle cx="347.7" cy="246" r="3.85" class="pt"/>
<circle cx="425" cy="267" r="3.85" class="pt"/>
<path d="M173.21,107.06 L173.08,107.35 L172.95,107.65 L172.83,107.96 L172.71,108.28 L172.59,108.61 L172.48,108.95 L172.38,109.29 L172.28,109.65 L172.19,110.01 L172.10,110.39 L172.01,110.77 L171.93,111.16 L171.85,111.57 L171.78,111.98 L171.72,112.40 L171.65,112.84 L171.59,113.28 L171.54,113.74 L171.49,114.20 L171.44,114.68 L171.40,115.17 L171.37,115.67 L171.33,116.19 L171.30,116.71 L171.28,117.25 L171.26,117.80 L171.24,118.37 L171.23,118.94 L171.22,119.54 L171.21,120.14 L171.21,120.76 L171.22,121.39 L171.22,122.04 L171.24,122.70 L171.25,123.37 L171.27,124.06 L171.29,124.77 L171.32,125.49 L171.35,126.22 L171.39,126.98 L171.43,127.74 L171.47,128.53 L171.52,129.33 L171.58,130.15 L171.63,130.98 L171.69,131.84 L171.76,132.71 L171.83,133.60 L171.90,134.50 L171.98,135.43 L172.07,136.37 L172.16,137.33 L172.25,138.31 L172.35,139.31 L172.45,140.33 L172.56,141.36 L172.67,142.42 L172.79,143.50 L172.91,144.60 L173.04,145.71 L173.17,146.85 L173.31,148.01 L173.45,149.19 L173.60,150.39 L173.75,151.61 L173.92,152.85 L174.08,154.11 L174.25,155.39 L174.43,156.70 L174.62,158.02 L174.81,159.37 L175.01,160.74 L175.21,162.12 L175.42,163.54 L175.64,164.97 L175.86,166.42 L176.09,167.89 L176.33,169.39 L176.58,170.91 L176.83,172.45 L177.10,174.00 L177.37,175.58 L177.64,177.18 L177.93,178.81 L178.23,180.45 L178.53,182.11 L178.84,183.79 L179.16,185.49 L179.49,187.21 L179.83,188.95 L180.18,190.71 L180.54,192.49 L180.91,194.28 L181.29,196.09 L181.68,197.92 L182.09,199.77 L182.50,201.64 L182.92,203.52 L183.36,205.41 L183.81,207.32 L184.27,209.25 L184.74,211.19 L185.23,213.14 L185.72,215.11 L186.24,217.09 L186.76,219.08 L187.30,221.08 L187.85,223.10 L188.42,225.12 L189.00,227.15 L189.60,229.19 L190.21,231.24 L190.84,233.30 L191.49,235.36 L192.15,237.43 L192.83,239.50 L193.52,241.58 L194.23,243.66 L194.96,245.75 L195.71,247.83 L196.48,249.92 L197.27,252.01 L198.07,254.09 L198.90,256.18 L199.74,258.26 L200.61,260.34 L201.49,262.41 L202.40,264.48 L203.33,266.55 L204.28,268.61 L205.25,270.66 L206.24,272.70 L207.26,274.73 L208.30,276.76 L209.36,278.77 L210.45,280.77 L211.56,282.76 L212.70,284.73 L213.86,286.69 L215.05,288.64 L216.26,290.57 L217.50,292.48 L218.77,294.37 L220.06,296.25 L221.37,298.11 L222.72,299.94 L224.09,301.76 L225.49,303.56 L226.92,305.33 L228.37,307.08 L229.85,308.80 L231.37,310.51 L232.91,312.18 L234.47,313.83 L236.07,315.46 L237.70,317.06 L239.35,318.63 L241.04,320.17 L242.75,321.68 L244.49,323.16 L246.26,324.61 L248.06,326.04 L249.89,327.43 L251.75,328.79 L253.63,330.11 L255.55,331.40 L257.49,332.66 L259.47,333.89 L261.47,335.08 L263.49,336.24 L265.55,337.36 L267.63,338.45 L269.74,339.50 L271.88,340.51 L274.04,341.49 L276.22,342.43 L278.44,343.33 L280.67,344.20 L282.93,345.02 L285.22,345.81 L287.53,346.56 L289.85,347.27 L292.21,347.95 L294.58,348.58 L296.97,349.17 L299.38,349.72 L301.81,350.24 L304.26,350.71 L306.72,351.14 L309.20,351.54 L311.70,351.89 L314.21,352.20 L316.73,352.47 L319.27,352.70 L321.81,352.89 L324.37,353.04 L326.94,353.15 L329.51,353.21 L332.09,353.24 L334.68,353.22 L337.27,353.16 L339.87,353.06 L342.46,352.92 L345.06,352.74 L347.66,352.52 L350.26,352.26 L352.86,351.96 L355.45,351.61 L358.04,351.23 L360.62,350.80 L363.20,350.34 L365.76,349.83 L368.32,349.29 L370.87,348.70 L373.41,348.08 L375.93,347.41 L378.44,346.71 L380.93,345.97 L383.41,345.19 L385.87,344.37 L388.31,343.51 L390.73,342.62 L393.14,341.68 L395.52,340.71 L397.87,339.71 L400.20,338.66 L402.51,337.59 L404.79,336.47 L407.05,335.32 L409.27,334.14 L411.47,332.92 L413.64,331.66 L415.78,330.38 L417.88,329.06 L419.95,327.71 L421.99,326.32 L424.00,324.91 L425.97,323.46 L427.90,321.98 L429.80,320.48 L431.66,318.94 L433.48,317.38 L435.27,315.79 L437.01,314.17 L438.71,312.52 L440.38,310.85 L442.00,309.15 L443.58,307.43 L445.12,305.69 L446.61,303.92 L448.07,302.13 L449.47,300.32 L450.84,298.48 L452.16,296.63 L453.43,294.76 L454.66,292.87 L455.84,290.96 L456.98,289.03 L458.07,287.09 L459.11,285.13 L460.10,283.16 L461.05,281.17 L461.95,279.18 L462.80,277.17 L463.61,275.15 L464.36,273.11 L465.07,271.07 L465.72,269.02 L466.33,266.97 L466.89,264.90 L467.40,262.84 L467.86,260.76 L468.27,258.68 L468.62,256.60 L468.93,254.52 L469.19,252.43 L469.40,250.34 L469.56,248.26 L469.67,246.17 L469.73,244.09 L469.74,242.00 L469.70,239.93 L469.60,237.85 L469.46,235.78 L469.27,233.72 L469.03,231.66 L468.73,229.61 L468.39,227.57 L468.00,225.53 L467.55,223.51 L467.06,221.49 L466.52,219.49 L465.93,217.49 L465.29,215.51 L464.60,213.54 L463.86,211.59 L463.07,209.64 L462.24,207.71 L461.36,205.80 L460.42,203.90 L459.44,202.02 L458.42,200.15 L457.34,198.30 L456.22,196.47 L455.06,194.65 L453.84,192.85 L452.58,191.07 L451.28,189.31 L449.93,187.56 L448.54,185.84 L447.10,184.13 L445.62,182.45 L444.09,180.78 L442.53,179.14 L440.92,177.51 L439.27,175.91 L437.58,174.32 L435.85,172.76 L434.08,171.22 L432.27,169.70 L430.42,168.20 L428.53,166.72 L426.61,165.26 L424.65,163.83 L422.66,162.41 L420.63,161.02 L418.57,159.64 L416.48,158.29 L414.35,156.96 L412.19,155.66 L410.00,154.37 L407.79,153.10 L405.54,151.86 L403.27,150.63 L400.97,149.43 L398.65,148.25 L396.30,147.09 L393.93,145.94 L391.53,144.82 L389.12,143.72 L386.68,142.64 L384.23,141.58 L381.75,140.54 L379.27,139.51 L376.76,138.51 L374.24,137.53 L371.71,136.56 L369.17,135.62 L366.61,134.69 L364.05,133.78 L361.47,132.89 L358.89,132.01 L356.31,131.16 L353.71,130.32 L351.12,129.50 L348.52,128.69 L345.92,127.90 L343.32,127.13 L340.72,126.38 L338.13,125.64 L335.54,124.91 L332.95,124.20 L330.36,123.51 L327.79,122.83 L325.22,122.17 L322.66,121.52 L320.11,120.88 L317.57,120.26 L315.04,119.66 L312.53,119.06 L310.03,118.48 L307.54,117.92 L305.07,117.36 L302.62,116.82 L300.18,116.29 L297.77,115.78 L295.37,115.27 L292.99,114.78 L290.63,114.30 L288.29,113.83 L285.98,113.37 L283.69,112.93 L281.42,112.49 L279.17,112.06 L276.95,111.65 L274.76,111.24 L272.59,110.85 L270.44,110.46 L268.33,110.09 L266.23,109.72 L264.17,109.37 L262.13,109.02 L260.12,108.68 L258.14,108.35 L256.19,108.03 L254.27,107.72 L252.37,107.41 L250.50,107.12 L248.66,106.83 L246.85,106.55 L245.07,106.28 L243.32,106.01 L241.60,105.76 L239.91,105.51 L238.24,105.26 L236.61,105.03 L235.00,104.80 L233.42,104.58 L231.87,104.37 L230.35,104.16 L228.86,103.96 L227.40,103.76 L225.96,103.57 L224.55,103.39 L223.17,103.22 L221.82,103.05 L220.49,102.88 L219.19,102.72 L217.92,102.57 L216.67,102.43 L215.45,102.28 L214.25,102.15 L213.08,102.02 L211.94,101.90 L210.82,101.78 L209.72,101.66 L208.65,101.55 L207.60,101.45 L206.58,101.35 L205.57,101.26 L204.60,101.17 L203.64,101.09 L202.70,101.01 L201.79,100.94 L200.90,100.87 L200.02,100.81 L199.17,100.75 L198.34,100.70 L197.53,100.65 L196.74,100.60 L195.96,100.56 L195.21,100.53 L194.47,100.50 L193.76,100.47 L193.05,100.45 L192.37,100.43 L191.70,100.42 L191.05,100.41 L190.42,100.41 L189.80,100.41 L189.20,100.42 L188.61,100.43 L188.04,100.45 L187.48,100.47 L186.94,100.49 L186.41,100.52 L185.89,100.55 L185.39,100.59 L184.90,100.64 L184.42,100.68 L183.96,100.74 L183.51,100.80 L183.07,100.86 L182.64,100.92 L182.22,101.00 L181.82,101.07 L181.42,101.16 L181.04,101.24 L180.66,101.33 L180.30,101.43 L179.95,101.53 L179.60,101.64 L179.27,101.75 L178.95,101.87 L178.63,101.99 L178.32,102.12 L178.03,102.26 L177.74,102.40 L177.46,102.54 L177.18,102.69 L176.92,102.85 L176.66,103.01 L176.41,103.18 L176.17,103.36 L175.94,103.54 L175.71,103.72 L175.49,103.92 L175.28,104.12 L175.07,104.32 L174.87,104.54 L174.68,104.76 L174.49,104.98 L174.31,105.22 L174.14,105.46 L173.97,105.70 L173.81,105.96 L173.65,106.22 L173.50,106.49 L173.35,106.77 Z" fill="none" stroke="#000" stroke-width="2.4" stroke-dasharray="9.05 9.05" stroke-dashoffset="-2.185"/>
<path d="M164.03,458.60 L164.09,457.19 L164.16,455.78 L164.23,454.38 L164.30,452.97 L164.36,451.56 L164.43,450.14 L164.50,448.73 L164.57,447.32 L164.64,445.91 L164.72,444.49 L164.79,443.08 L164.86,441.67 L164.93,440.25 L165.01,438.84 L165.08,437.42 L165.16,436.01 L165.24,434.59 L165.31,433.18 L165.39,431.76 L165.47,430.34 L165.55,428.93 L165.63,427.51 L165.71,426.10 L165.79,424.68 L165.87,423.26 L165.96,421.85 L166.04,420.43 L166.13,419.02 L166.21,417.60 L166.30,416.19 L166.38,414.78 L166.47,413.36 L166.56,411.95 L166.65,410.54 L166.74,409.13 L166.83,407.72 L166.92,406.31 L167.02,404.90 L167.11,403.49 L167.21,402.08 L167.30,400.67 L167.40,399.27 L167.49,397.86 L167.59,396.46 L167.69,395.05 L167.79,393.65 L167.89,392.25 L167.99,390.85 L168.10,389.45 L168.20,388.05 L168.30,386.66 L168.41,385.26 L168.52,383.87 L168.62,382.48 L168.73,381.09 L168.84,379.70 L168.95,378.31 L169.07,376.92 L169.18,375.54 L169.29,374.15 L169.41,372.77 L169.52,371.39 L169.64,370.02 L169.76,368.64 L169.88,367.27 L170.00,365.89 L170.12,364.52 L170.24,363.15 L170.36,361.79 L170.49,360.42 L170.61,359.06 L170.74,357.70 L170.87,356.34 L171.00,354.99 L171.13,353.63 L171.26,352.28 L171.39,350.93 L171.53,349.59 L171.66,348.24 L171.80,346.90 L171.94,345.56 L172.08,344.22 L172.22,342.89 L172.36,341.55 L172.50,340.23 L172.65,338.90 L172.79,337.57 L172.94,336.25 L173.09,334.93 L173.24,333.62 L173.39,332.30 L173.54,330.99 L173.70,329.68 L173.85,328.38 L174.01,327.08 L174.17,325.78 L174.33,324.48 L174.49,323.19 L174.65,321.90 L174.82,320.61 L174.98,319.33 L175.15,318.05 L175.32,316.77 L175.49,315.49 L175.66,314.22 L175.83,312.95 L176.01,311.69 L176.19,310.42 L176.37,309.17 L176.55,307.91 L176.73,306.66 L176.91,305.41 L177.10,304.16 L177.28,302.92 L177.47,301.68 L177.66,300.45 L177.85,299.22 L178.05,297.99 L178.24,296.76 L178.44,295.54 L178.64,294.33 L178.84,293.11 L179.05,291.90 L179.25,290.69 L179.46,289.49 L179.67,288.29 L179.88,287.10 L180.09,285.90 L180.31,284.72 L180.52,283.53 L180.74,282.35 L180.96,281.17 L181.18,280.00 L181.41,278.83 L181.64,277.67 L181.87,276.51 L182.10,275.35 L182.33,274.19 L182.57,273.04 L182.80,271.90 L183.04,270.76 L183.28,269.62 L183.53,268.48 L183.78,267.35 L184.02,266.23 L184.28,265.10 L184.53,263.99 L184.79,262.87 L185.04,261.76 L185.30,260.66 L185.57,259.55 L185.83,258.46 L186.10,257.36 L186.37,256.27 L186.64,255.19 L186.92,254.10 L187.20,253.03 L187.48,251.95 L187.76,250.88 L188.05,249.82 L188.33,248.76 L188.63,247.70 L188.92,246.65 L189.22,245.60 L189.52,244.56 L189.82,243.52 L190.12,242.48 L190.43,241.45 L190.74,240.42 L191.05,239.40 L191.37,238.38 L191.69,237.36 L192.01,236.35 L192.34,235.35 L192.66,234.34 L193.00,233.35 L193.33,232.35 L193.67,231.36 L194.01,230.38 L194.35,229.40 L194.70,228.42 L195.05,227.45 L195.40,226.48 L195.76,225.52 L196.12,224.56 L196.48,223.60 L196.85,222.65 L197.22,221.70 L197.59,220.76 L197.97,219.82 L198.35,218.89 L198.73,217.96 L199.12,217.03 L199.51,216.11 L199.90,215.19 L200.30,214.28 L200.70,213.37 L201.11,212.47 L201.52,211.57 L201.93,210.67 L202.35,209.78 L202.77,208.89 L203.19,208.01 L203.62,207.13 L204.06,206.25 L204.49,205.38 L204.93,204.52 L205.38,203.66 L205.83,202.80 L206.28,201.94 L206.74,201.09 L207.20,200.25 L207.66,199.41 L208.13,198.57 L208.61,197.74 L209.09,196.91 L209.57,196.08 L210.06,195.26 L210.55,194.45 L211.05,193.63 L211.55,192.83 L212.06,192.02 L212.57,191.22 L213.08,190.43 L213.60,189.63 L214.13,188.85 L214.66,188.06 L215.19,187.28 L215.73,186.51 L216.28,185.74 L216.83,184.97 L217.38,184.21 L217.94,183.45 L218.51,182.69 L219.08,181.94 L219.65,181.19 L220.23,180.45 L220.82,179.71 L221.41,178.97 L222.01,178.24 L222.61,177.51 L223.22,176.79 L223.83,176.07 L224.45,175.35 L225.08,174.64 L225.71,173.93 L226.35,173.23 L226.99,172.53 L227.64,171.83 L229.77,169.62 L231.90,167.51 L234.02,165.49 L236.15,163.56 L238.28,161.71 L240.41,159.94 L242.54,158.24 L244.66,156.60 L246.79,155.03 L248.92,153.52 L251.05,152.07 L253.18,150.67 L255.30,149.32 L257.43,148.01 L259.56,146.76 L261.69,145.54 L263.82,144.36 L265.94,143.22 L268.07,142.12 L270.20,141.05 L272.33,140.02 L274.46,139.01 L276.58,138.04 L278.71,137.09 L280.84,136.17 L282.97,135.28 L285.09,134.41 L287.22,133.57 L289.35,132.75 L291.48,131.95 L293.61,131.17 L295.73,130.41 L297.86,129.67 L299.99,128.95 L302.12,128.24 L304.25,127.56 L306.37,126.89 L308.50,126.23 L310.63,125.60 L312.76,124.97 L314.89,124.36 L317.01,123.77 L319.14,123.18 L321.27,122.61 L323.40,122.05 L325.53,121.51 L327.65,120.97 L329.78,120.45 L331.91,119.94 L334.04,119.43 L336.17,118.94 L338.29,118.46 L340.42,117.99 L342.55,117.52 L344.68,117.07 L346.81,116.62 L348.93,116.18 L351.06,115.75 L353.19,115.33 L355.32,114.92 L357.45,114.51 L359.57,114.11 L361.70,113.72 L363.83,113.33 L365.96,112.95 L368.09,112.58 L370.21,112.22 L372.34,111.86 L374.47,111.50 L376.60,111.15 L378.73,110.81 L380.85,110.47 L382.98,110.14 L385.11,109.81 L387.24,109.49 L389.36,109.18 L391.49,108.86 L393.62,108.56 L395.75,108.26 L397.88,107.96 L400.00,107.66 L402.13,107.37 L404.26,107.09 L406.39,106.81 L408.52,106.53 L410.64,106.26 L412.77,105.99 L414.90,105.73 L417.03,105.46 L419.16,105.21 L421.28,104.95 L423.41,104.70 L425.54,104.45 L427.67,104.21 L429.80,103.97 L431.92,103.73 L434.05,103.49 L436.18,103.26 L438.31,103.03 L440.44,102.81 L442.56,102.58 L444.69,102.36 L446.82,102.14 L448.95,101.93 L451.08,101.72 L453.20,101.51 L455.33,101.30 L457.46,101.09 L459.59,100.89 L461.72,100.69 L463.84,100.49 L465.97,100.30 L468.10,100.10 L470.23,99.91 L472.36,99.72 L474.48,99.53 L476.61,99.35 L478.74,99.17 L480.87,98.99 L483.00,98.81 L485.12,98.63 L487.25,98.45 L489.38,98.28 L491.51,98.11 L493.63,97.94 L495.76,97.77 L497.89,97.61 L500.02,97.44 L502.15,97.28 L504.27,97.12 L506.40,96.96 L508.53,96.80 L510.66,96.64 L512.79,96.49 L514.91,96.34 L517.04,96.18 L519.17,96.03 L521.30,95.88 L523.43,95.74 L525.55,95.59 L527.68,95.45 L529.81,95.30 L531.94,95.16 L534.07,95.02 L536.19,94.88 L538.32,94.74 L540.45,94.60 L542.58,94.47 L544.71,94.33 L546.83,94.20 L548.96,94.07 L551.09,93.94 L553.22,93.81 L555.35,93.68 L557.47,93.55 L559.60,93.42 L561.73,93.30 L563.86,93.17 L565.99,93.05 L568.11,92.93 L570.24,92.81 L572.37,92.69 L574.50,92.57 L576.63,92.45 L578.75,92.33 L580.88,92.21 L583.01,92.10 L585.14,91.98 L587.27,91.87 L589.39,91.76 L591.52,91.65 L593.65,91.53 L595.78,91.42 L597.91,91.31 L600.03,91.21 L602.16,91.10 L604.29,90.99 L606.42,90.88 L608.54,90.78 L610.67,90.67 L612.80,90.57 L614.93,90.47 L617.06,90.36 L619.18,90.26 L621.31,90.16 L623.44,90.06 L625.57,89.96 L627.70,89.86 L629.82,89.76 L631.95,89.67 L634.08,89.57 L636.21,89.47 L638.34,89.38 L640.46,89.28 L642.59,89.19 L644.72,89.09 L646.85,89.00 L648.98,88.91 L651.10,88.81 L653.23,88.72 L655.36,88.63 L657.49,88.54 L659.62,88.45 L661.74,88.36 L663.87,88.27 L666.00,88.19 L668.13,88.10 L670.26,88.01 L672.38,87.92 L674.51,87.84 L676.64,87.75 L678.77,87.67 L680.90,87.58 L683.02,87.50 L685.15,87.41 L687.28,87.33 L689.41,87.25 L691.54,87.17 L693.66,87.08 L695.79,87.00 L697.92,86.92 L700.05,86.84 L702.18,86.76 L704.30,86.68 L706.43,86.60 L708.56,86.52 L710.69,86.44 L712.81,86.37 L714.94,86.29 L717.07,86.21 L719.20,86.13 L721.33,86.06 L723.45,85.98 L725.58,85.90 L727.71,85.83 L729.84,85.75 L731.97,85.68 L734.09,85.60 L736.22,85.53 L738.35,85.46 L740.48,85.38 L742.61,85.31 L744.73,85.24 L746.86,85.16 L748.99,85.09 L751.12,85.02 L753.25,84.95 L755.37,84.87 L757.50,84.80 L759.63,84.73 L761.76,84.66 L763.89,84.59 L766.01,84.52 L768.14,84.45 L770.27,84.38 L772.40,84.31 L774.53,84.24 L776.65,84.17 L778.78,84.10 L780.91,84.03 L783.04,83.96 L785.17,83.90 L787.29,83.83 L789.42,83.76 L791.55,83.69 L793.68,83.62 L795.81,83.56 L797.93,83.49 L800.06,83.42 L802.19,83.35 L804.32,83.28 L806.45,83.22 L808.57,83.15 L810.70,83.08 L812.83,83.01 L814.96,82.95 L817.08,82.88 L819.21,82.81 L821.34,82.74 L823.47,82.68 L825.60,82.61 L827.72,82.54 L829.85,82.47 L831.98,82.41 L834.11,82.34 L836.24,82.27 L838.36,82.20 L840.49,82.13 L842.62,82.06 L844.75,81.99 L846.88,81.92 L849.00,81.85 L851.13,81.77 L853.26,81.70 L855.39,81.62 L857.52,81.54 L859.64,81.46 L861.77,81.37 L863.90,81.28" fill="none" stroke="#000" stroke-width="2.6"/>
<path d="M236.4,122.2 L277.7,163.5 L236.4,204.8 L195.10000000000002,163.5 Z" fill="none" stroke="#000" stroke-width="1.7"/>
<line x1="119.9" x2="936.4" y1="9.55" y2="9.55" stroke="#222" stroke-width="1.6"/>
<line x1="119.9" x2="936.4" y1="825.1" y2="825.1" stroke="#383838" stroke-width="1.9"/>
<line y1="8.75" y2="826.05" x1="120.5" x2="120.5" stroke="#6a6a6a" stroke-width="1.2"/>
<line y1="8.75" y2="826.05" x1="935.55" x2="935.55" stroke="#1e1e1e" stroke-width="1.6"/>
<line x1="112.7" x2="120.5" y1="788.45" y2="788.45" class="tk"/>
<line y1="824.9" y2="832.3" x1="156.90" x2="156.90" class="tk"/>
<line x1="112.7" x2="120.5" y1="647.07" y2="647.07" class="tk"/>
<line y1="824.9" y2="832.3" x1="298.38" x2="298.38" class="tk"/>
<line x1="112.7" x2="120.5" y1="505.69" y2="505.69" class="tk"/>
<line y1="824.9" y2="832.3" x1="439.86" x2="439.86" class="tk"/>
<line x1="112.7" x2="120.5" y1="364.31" y2="364.31" class="tk"/>
<line y1="824.9" y2="832.3" x1="581.34" x2="581.34" class="tk"/>
<line x1="112.7" x2="120.5" y1="222.93" y2="222.93" class="tk"/>
<line y1="824.9" y2="832.3" x1="722.82" x2="722.82" class="tk"/>
<line x1="112.7" x2="120.5" y1="81.55" y2="81.55" class="tk"/>
<line y1="824.9" y2="832.3" x1="864.30" x2="864.30" class="tk"/>
<text class="tl" transform="matrix(0.33522 0 0 0.33971 132.40 861.72)">0</text>
<text class="tl" transform="matrix(0.34409 0 0 0.36882 152.10 861.60)">.</text>
<text class="tl" transform="matrix(0.33522 0 0 0.33971 162.74 861.72)">0</text>
<text class="tl" transform="matrix(0.33522 0 0 0.33971 57.11 799.87)">0</text>
<text class="tl" transform="matrix(0.34409 0 0 0.36882 76.82 799.75)">.</text>
<text class="tl" transform="matrix(0.33522 0 0 0.33971 87.45 799.87)">0</text>
<text class="tl" transform="matrix(0.33522 0 0 0.33971 273.88 861.72)">0</text>
<text class="tl" transform="matrix(0.34409 0 0 0.36882 293.58 861.60)">.</text>
<text class="tl" transform="matrix(0.32311 0 0 0.33801 304.14 861.60)">2</text>
<text class="tl" transform="matrix(0.33522 0 0 0.33971 57.11 658.49)">0</text>
<text class="tl" transform="matrix(0.34409 0 0 0.36882 76.82 658.37)">.</text>
<text class="tl" transform="matrix(0.32311 0 0 0.33801 87.37 658.37)">2</text>
<text class="tl" transform="matrix(0.33522 0 0 0.33971 415.36 861.72)">0</text>
<text class="tl" transform="matrix(0.34409 0 0 0.36882 435.06 861.60)">.</text>
<text class="tl" transform="matrix(0.33526 0 0 0.33696 445.70 861.60)">4</text>
<text class="tl" transform="matrix(0.33522 0 0 0.33971 57.11 517.11)">0</text>
<text class="tl" transform="matrix(0.34409 0 0 0.36882 76.82 516.99)">.</text>
<text class="tl" transform="matrix(0.33526 0 0 0.33696 87.45 516.99)">4</text>
<text class="tl" transform="matrix(0.33522 0 0 0.33971 556.84 861.72)">0</text>
<text class="tl" transform="matrix(0.34409 0 0 0.36882 576.54 861.60)">.</text>
<text class="tl" transform="matrix(0.34694 0 0 0.33971 586.85 861.72)">6</text>
<text class="tl" transform="matrix(0.33522 0 0 0.33971 57.11 375.73)">0</text>
<text class="tl" transform="matrix(0.34409 0 0 0.36882 76.82 375.61)">.</text>
<text class="tl" transform="matrix(0.34694 0 0 0.33971 87.13 375.73)">6</text>
<text class="tl" transform="matrix(0.33522 0 0 0.33971 698.32 861.72)">0</text>
<text class="tl" transform="matrix(0.34409 0 0 0.36882 718.02 861.60)">.</text>
<text class="tl" transform="matrix(0.33885 0 0 0.33971 728.56 861.72)">8</text>
<text class="tl" transform="matrix(0.33522 0 0 0.33971 57.11 234.35)">0</text>
<text class="tl" transform="matrix(0.34409 0 0 0.36882 76.82 234.23)">.</text>
<text class="tl" transform="matrix(0.33885 0 0 0.33971 87.35 234.35)">8</text>
<text class="tl" transform="matrix(0.32016 0 0 0.33696 840.07 861.60)">1</text>
<text class="tl" transform="matrix(0.34409 0 0 0.36882 859.50 861.60)">.</text>
<text class="tl" transform="matrix(0.33522 0 0 0.33971 870.14 861.72)">0</text>
<text class="tl" transform="matrix(0.32016 0 0 0.33696 57.38 92.85)">1</text>
<text class="tl" transform="matrix(0.34409 0 0 0.36882 76.82 92.85)">.</text>
<text class="tl" transform="matrix(0.33522 0 0 0.33971 87.45 92.97)">0</text>
<text class="at" transform="matrix(0.40111 0 0 0.42215 394.50 905.20)">1</text>
<text class="at" transform="matrix(0.42948 0 0 0.40836 431.23 905.13)">-</text>
<text class="at" transform="matrix(0.37027 0 0 0.42560 458.74 905.35)">S</text>
<text class="at" transform="matrix(0.43344 0 0 0.41067 484.34 904.96)">p</text>
<text class="at" transform="matrix(0.43032 0 0 0.41757 509.18 905.36)">e</text>
<text class="at" transform="matrix(0.39975 0 0 0.41757 533.82 905.36)">c</text>
<text class="at" transform="matrix(0.40725 0 0 0.41773 556.25 905.20)">i</text>
<text class="at" transform="matrix(0.48104 0 0 0.41829 567.08 905.20)">f</text>
<text class="at" transform="matrix(0.40725 0 0 0.41773 581.35 905.20)">i</text>
<text class="at" transform="matrix(0.39975 0 0 0.41757 591.89 905.36)">c</text>
<text class="at" transform="matrix(0.40725 0 0 0.41773 614.32 905.20)">i</text>
<text class="at" transform="matrix(0.49167 0 0 0.42754 625.21 904.87)">t</text>
<text class="at" transform="matrix(0.42784 0 0 0.40871 641.06 905.01)">y</text>
<g transform="translate(40.3,521.0) rotate(-90)"><text class="at" transform="matrix(0.37037 0 0 0.42571 0.51 0.15)">S</text><text class="at" transform="matrix(0.43043 0 0 0.41768 25.67 0.16)">e</text><text class="at" transform="matrix(0.42965 0 0 0.41477 50.58 0.00)">n</text><text class="at" transform="matrix(0.38199 0 0 0.41880 76.17 0.16)">s</text><text class="at" transform="matrix(0.40736 0 0 0.41783 96.86 0.00)">i</text><text class="at" transform="matrix(0.49179 0 0 0.42764 107.75 -0.33)">t</text><text class="at" transform="matrix(0.40736 0 0 0.41783 123.56 0.00)">i</text><text class="at" transform="matrix(0.43006 0 0 0.41250 134.64 0.00)">v</text><text class="at" transform="matrix(0.40736 0 0 0.41783 158.21 0.00)">i</text><text class="at" transform="matrix(0.49179 0 0 0.42764 169.10 -0.33)">t</text><text class="at" transform="matrix(0.42795 0 0 0.40881 184.96 -0.19)">y</text></g>
</svg>
</body></html>
